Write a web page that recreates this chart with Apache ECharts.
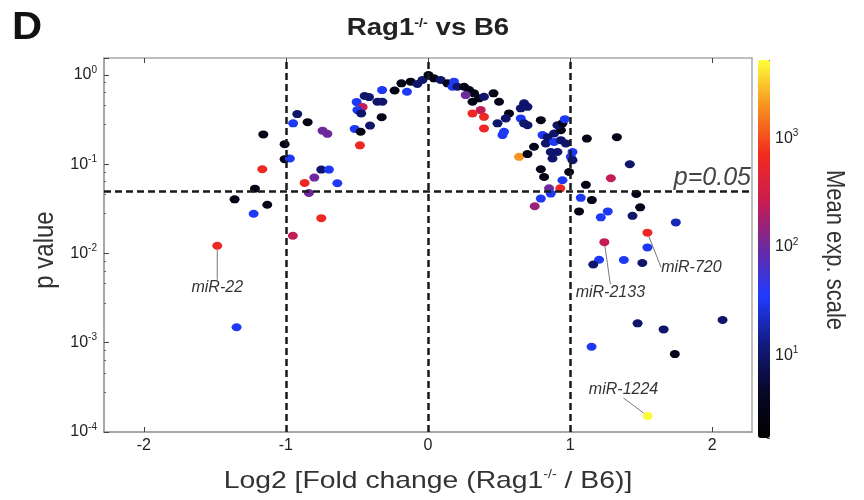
<!DOCTYPE html>
<html>
<head>
<meta charset="utf-8">
<script src="https://cdn.jsdelivr.net/npm/echarts@6/dist/echarts.min.js"></script>
<style>
html, body { margin: 0; background: #fff; }
#chart { width: 864px; height: 500px; }
</style>
</head>
<body>
<div id="chart"></div>
<script>
// volcano plot: log2 fold change vs p value, coloured by mean expression
const log2FoldChange = [
    -1.159, -1.009, -1.009, -0.972, -1.166, -1.218, -1.361, -1.131, -1.227,
    -0.920, -0.949, -0.847, -0.742, -0.708, -0.751, -0.697, -0.800, -0.868, -0.638, -0.838, -0.751, -0.951, -1.347,
    -0.502, -0.460, -0.497, -0.470, -0.446, -0.415, -0.356, -0.321, -0.323, -0.326, -0.408, -0.516, -0.474, -0.479,
    -0.235, -0.187, -0.148, -0.122, -0.075, -0.039, 0.003, 0.042, 0.089, 0.137, 0.172, 0.183, 0.207, 0.254,
    0.289, 0.324, 0.265, 0.359, 0.394, 0.461, 0.500, 0.313, 0.371, 0.313, 0.394, 0.394, 0.489, 0.535, 0.524,
    0.570, 0.547, 0.676, 0.700, 0.653, 0.653, 0.700, 0.676, 0.794, 0.641, 0.700, 0.746, 0.806, 0.841, 0.887,
    0.935, 0.911, 0.946, 0.963, 0.829, 0.887, 0.935, 0.970, 0.864, 0.911, 1.017, 0.876, 1.005, 0.794, 0.817,
    0.993, 0.946, 0.852, 0.931, 0.864, 0.794, 0.751, 1.017,
    1.118, 1.329, 1.420, 1.287, 1.111, 1.075, 1.153, 1.466, 1.063, 1.216, 1.265, 1.493, 1.439, 1.744,
    1.544, 1.204, 1.163, 1.378, 1.508, 1.475, 1.658, 2.073, 1.151, 1.737,
];
const pValues = [
    0.216, 0.168, 0.114, 0.116, 0.0879, 0.0533, 0.0404, 0.0352, 0.0279,
    0.365, 0.287, 0.296, 0.238, 0.219, 0.0872, 0.0872, 0.0709, 0.0617, 0.0612, 0.0476, 0.0249, 0.0158, 0.00149,
    0.497, 0.437, 0.404, 0.371, 0.581, 0.566, 0.501, 0.501, 0.678, 0.337, 0.271, 0.249, 0.231, 0.163,
    0.670, 0.807, 0.649, 0.841, 0.792, 0.879, 1.0, 0.918, 0.879, 0.807, 0.739, 0.841, 0.739, 0.739,
    0.678, 0.623, 0.596, 0.548, 0.571, 0.623, 0.501, 0.501, 0.404, 0.371, 0.340, 0.252, 0.287, 0.231, 0.212,
    0.371, 0.326, 0.481, 0.440, 0.423, 0.326, 0.274, 0.287, 0.312, 0.121, 0.130, 0.157, 0.212, 0.201, 0.221,
    0.241, 0.274, 0.287, 0.320, 0.171, 0.178, 0.186, 0.171, 0.137, 0.137, 0.137, 0.116, 0.121, 0.0879, 0.0720,
    0.0819, 0.0661, 0.0537, 0.0537, 0.0469, 0.0412, 0.0338, 0.111,
    0.194, 0.201, 0.100, 0.0696, 0.0588, 0.0420, 0.0397, 0.0464, 0.0296, 0.0254, 0.0296, 0.0329, 0.0264, 0.0223,
    0.0117, 0.00850, 0.00752, 0.00845, 0.00782, 0.00165, 0.00141, 0.00180, 0.000902, 0.000747,
];
const meanExpression = [
    3, 3, 3, 32, 630, 3, 3, 3, 32,
    10, 32, 3, 100, 100, 10, 32, 100, 630, 32, 100, 630, 250, 32,
    32, 250, 32, 10, 10, 10, 10, 10, 32, 3, 10, 32, 3, 630,
    3, 3, 32, 3, 10, 10, 3, 3, 10, 3, 32, 32, 10, 3,
    3, 3, 100, 3, 10, 3, 3, 3, 250, 630, 630, 630, 10, 32, 32,
    3, 10, 10, 10, 10, 32, 10, 10, 3, 2000, 3, 3, 32, 10, 10,
    3, 10, 3, 32, 10, 32, 10, 10, 10, 10, 32, 10, 32, 3, 3,
    3, 32, 100, 630, 32, 32, 160, 10,
    3, 3, 10, 250, 3, 32, 3, 3, 3, 32, 32, 3, 10, 20,
    32, 32, 10, 32, 10, 10, 10, 10, 32, 3,
];

// annotated miRNAs
const labelNames = ['miR-22', 'miR-2133', 'miR-720', 'miR-1224'];
const labelFoldChange = [-1.483, 1.241, 1.544, 1.545];
const labelP = [0.0122, 0.0134, 0.0171, 0.000151];
const labelExpression = [630, 250, 630, 5000];

const foldLines = [-1, 0, 1];
const pThreshold = 0.05;
const xTicks = [-2, -1, 0, 1, 2];

const FONT = '"Liberation Sans", Arial, Helvetica, sans-serif';
const labelOffsets = [[0, 42], [6, 50], [44, 35], [-24, -26]];

const powerRich = {
    b: { fontSize: 16, lineHeight: 20, color: '#222', fontFamily: FONT },
    s: { fontSize: 10, lineHeight: 12, verticalAlign: 'top', color: '#222', fontFamily: FONT },
};
const powerLabel = v => {
    const e = Math.log10(v);
    const r = Math.round(e);
    if (Math.abs(e - r) > 1e-6) return '';
    return '{b|10}{s|' + r + '}';
};

const points = log2FoldChange.map((fc, i) => [fc, pValues[i], Math.log10(meanExpression[i])]);
const named = labelNames.map((n, i) => ({
    name: n,
    value: [labelFoldChange[i], labelP[i], Math.log10(labelExpression[i])],
}));

const dash = { type: [7, 4], width: 2.5, color: '#1a1a1a' };

const chart = echarts.init(document.getElementById('chart'));
chart.setOption({
    animation: false,
    grid: [
        { left: 104, right: 112, top: 58, bottom: 68 },
        { left: 758, top: 60, width: 12, height: 378 },
    ],
    xAxis: [
        {
            gridIndex: 0, type: 'value', min: -2.28, max: 2.28, position: 'bottom',
            axisLine: { onZero: false, lineStyle: { color: '#8a8a8a', width: 1.5 } },
            axisTick: { inside: true, length: 5, customValues: xTicks, lineStyle: { color: '#444' } },
            axisLabel: { customValues: xTicks, fontSize: 16, color: '#222', margin: 6, fontFamily: FONT },
            splitLine: { show: false },
        },
        {
            gridIndex: 0, type: 'value', min: -2.28, max: 2.28, position: 'top',
            axisLine: { onZero: false, lineStyle: { color: '#aaa', width: 1.5 } },
            axisTick: { inside: true, length: 5, customValues: xTicks, lineStyle: { color: '#444' } },
            axisLabel: { show: false },
            splitLine: { show: false },
        },
        { gridIndex: 1, type: 'value', show: false, min: 0, max: 1 },
    ],
    yAxis: [
        {
            gridIndex: 0, type: 'log', logBase: 10, min: 1e-4, max: 1.55, position: 'left',
            axisLine: { show: true, onZero: false, lineStyle: { color: '#8a8a8a', width: 1.5 } },
            axisTick: { show: true, inside: true, length: 5, lineStyle: { color: '#444' } },
            minorTick: { show: true, splitNumber: 5, length: 2, lineStyle: { color: '#666' } },
            axisLabel: { formatter: powerLabel, rich: powerRich, margin: 7 },
            splitLine: { show: false },
        },
        {
            gridIndex: 0, type: 'log', logBase: 10, min: 1e-4, max: 1.55, position: 'right',
            axisLine: { show: true, onZero: false, lineStyle: { color: '#aaa', width: 1.5 } },
            axisTick: { show: false }, axisLabel: { show: false }, splitLine: { show: false },
        },
        {
            gridIndex: 1, type: 'log', logBase: 10, min: Math.pow(10, 0.24), max: Math.pow(10, 3.72),
            position: 'right',
            axisLine: { show: false, onZero: false },
            axisTick: { show: true, inside: true, length: 3, lineStyle: { color: '#555' } },
            minorTick: { show: true, splitNumber: 4, length: 2, lineStyle: { color: '#666' } },
            axisLabel: { formatter: powerLabel, rich: powerRich, margin: 5 },
            splitLine: { show: false },
        },
    ],
    visualMap: {
        type: 'continuous',
        seriesIndex: [0, 1],
        dimension: 2,
        min: 0.24,
        max: 3.72,
        left: 758,
        top: 60,
        padding: 0,
        itemWidth: 12,
        itemHeight: 378,
        calculable: false,
        text: null,
        inRange: {
            color: ['#000000', '#08082a', '#121a80', '#1f3cff', '#6a2aa0', '#c81c50', '#f22a1e', '#f7901e', '#ffff3a'],
        },
    },
    series: [
        {
            type: 'scatter',
            xAxisIndex: 0, yAxisIndex: 0,
            symbol: 'circle',
            symbolSize: [10, 8],
            itemStyle: { opacity: 1 },
            data: points,
            markLine: {
                silent: true,
                symbol: 'none',
                lineStyle: dash,
                label: { show: false },
                data: foldLines.map(v => ({ xAxis: v })).concat([{
                    yAxis: pThreshold,
                    label: {
                        show: true, position: 'insideEndTop', formatter: 'p=' + pThreshold,
                        fontStyle: 'italic', fontSize: 25, color: '#444', fontFamily: FONT, distance: 1,
                    },
                }]),
            },
        },
        {
            type: 'scatter',
            xAxisIndex: 0, yAxisIndex: 0,
            symbol: 'circle',
            symbolSize: [10, 8],
            itemStyle: { opacity: 1 },
            data: named,
            label: {
                show: true, position: 'inside', formatter: '{b}',
                fontStyle: 'italic', fontSize: 16, color: '#333', fontFamily: FONT,
            },
            labelLine: { show: true, lineStyle: { color: '#777', width: 1 } },
            labelLayout: p => ({ dx: labelOffsets[p.dataIndex][0], dy: labelOffsets[p.dataIndex][1] }),
        },
    ],
    graphic: [
        {
            type: 'text', x: 27, y: 29, scaleX: 1.1,
            style: { text: 'D', font: 'bold 38px ' + FONT, fill: '#111', align: 'center', verticalAlign: 'middle' },
        },
        {
            type: 'text', x: 428, y: 29, scaleX: 1.2,
            style: {
                text: 'Rag1{sup|-/-} vs B6', font: 'bold 23px ' + FONT, fill: '#222',
                align: 'center', verticalAlign: 'middle',
                rich: { sup: { fontSize: 12, fontWeight: 'bold', verticalAlign: 'top', lineHeight: 12, fill: '#222' } },
            },
        },
        {
            type: 'text', x: 428, y: 481, scaleX: 1.18,
            style: {
                text: 'Log2 [Fold change (Rag1{sup|-/-} / B6)]', font: '24px ' + FONT, fill: '#333',
                align: 'center', verticalAlign: 'middle',
                rich: { sup: { fontSize: 12, verticalAlign: 'top', lineHeight: 12, fill: '#333' } },
            },
        },
        {
            type: 'text', x: 45, y: 250, rotation: Math.PI / 2, scaleY: 1.15,
            style: { text: 'p value', font: '24px ' + FONT, fill: '#333', align: 'center', verticalAlign: 'middle' },
        },
        {
            type: 'text', x: 834, y: 250, rotation: -Math.PI / 2, scaleY: 1.15,
            style: { text: 'Mean exp. scale', font: '22px ' + FONT, fill: '#333', align: 'center', verticalAlign: 'middle' },
        },
    ],
});
</script>
</body>
</html>
